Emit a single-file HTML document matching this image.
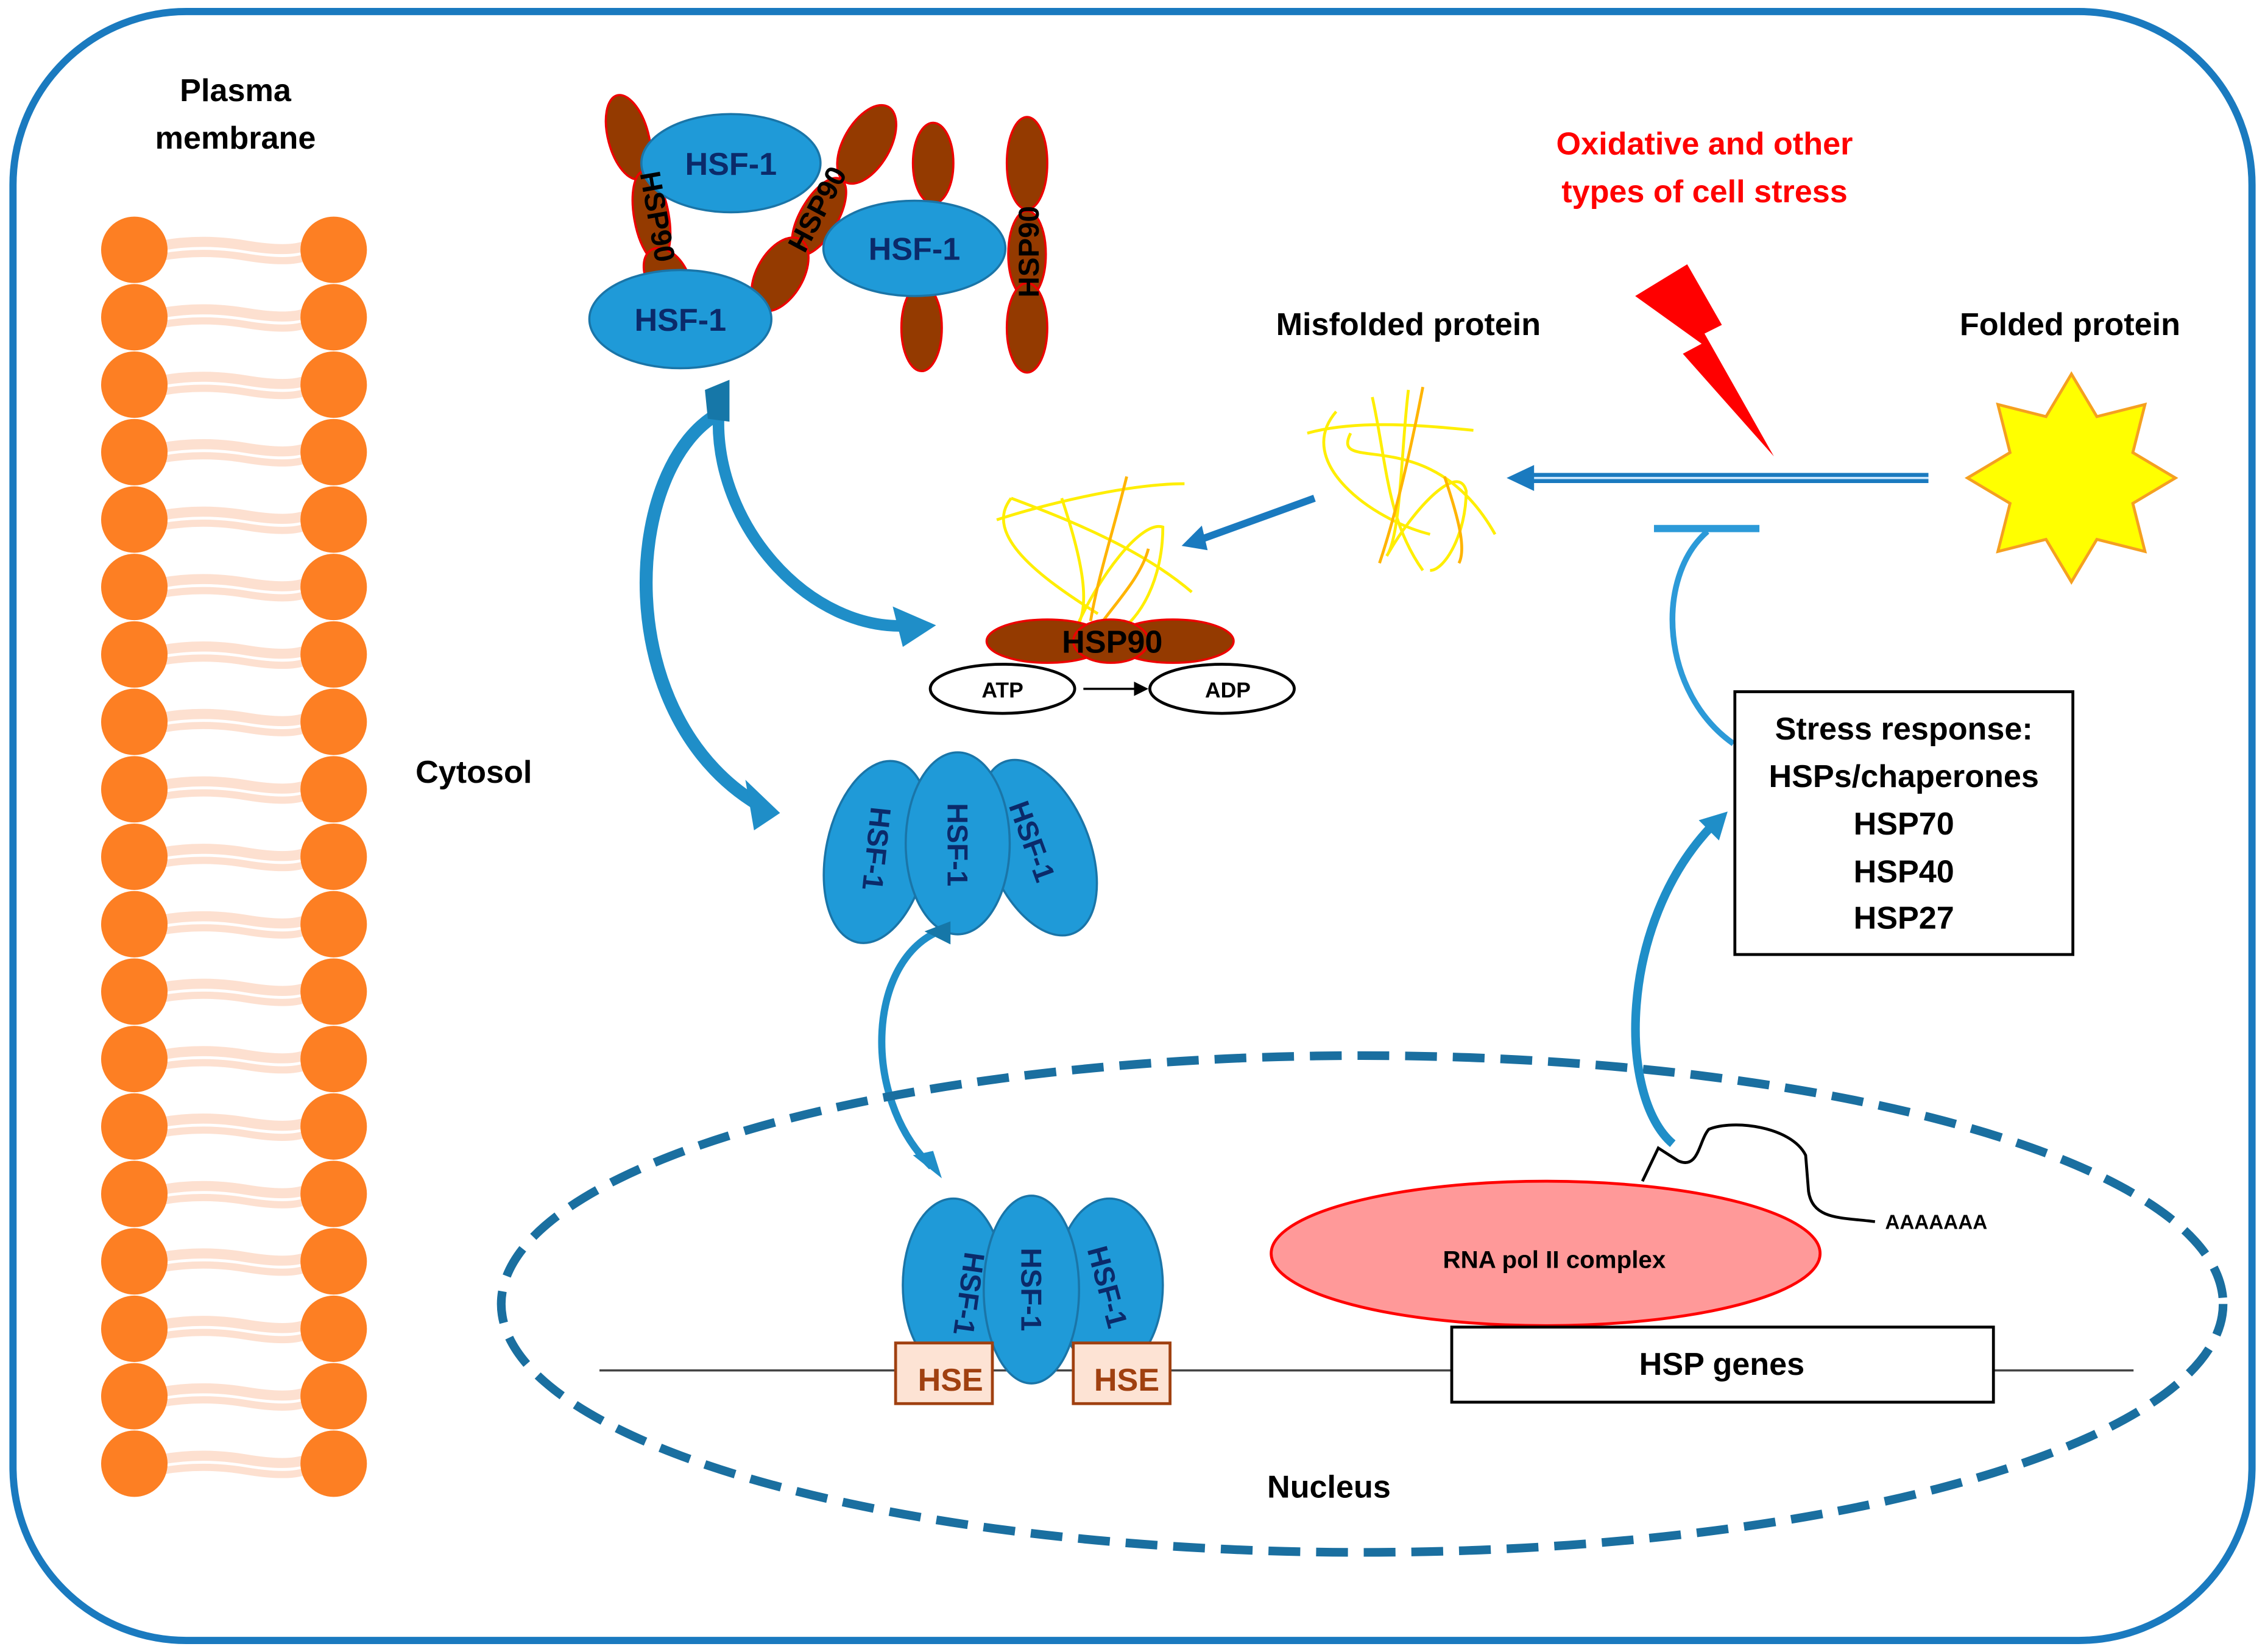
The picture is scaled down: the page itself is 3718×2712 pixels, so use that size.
<!DOCTYPE html>
<html><head><meta charset="utf-8"><style>
html,body{margin:0;padding:0;background:#fff;width:3718px;height:2712px;overflow:hidden}
svg{display:block}
text{font-family:"Liberation Sans",sans-serif;font-weight:bold}
</style></head><body>
<svg width="3718" height="2712" viewBox="0 0 1568 1144" preserveAspectRatio="none" xmlns="http://www.w3.org/2000/svg">
<defs>
<marker id="ab" markerWidth="10" markerHeight="10" refX="8" refY="5" orient="auto" markerUnits="userSpaceOnUse"><path d="M0,0 L10,5 L0,10 Z" fill="#000"/></marker>
<g id="row">
<path d="M112,-3 Q140,-8 170,-3 T212,-3" stroke="#fde0d0" stroke-width="7" fill="none"/>
<path d="M112,5 Q140,0 170,5 T212,5" stroke="#fde0d0" stroke-width="5" fill="none"/>
<circle cx="93" cy="0" r="23" fill="#fd7f23"/><circle cx="231" cy="0" r="23" fill="#fd7f23"/>
</g>
</defs>
<rect x="9" y="8" width="1550" height="1128" rx="120" fill="#fff" stroke="#1a7abf" stroke-width="5"/>

<!-- membrane -->
<use href="#row" y="173"/><use href="#row" y="219.7"/><use href="#row" y="266.4"/><use href="#row" y="313.1"/>
<use href="#row" y="359.8"/><use href="#row" y="406.5"/><use href="#row" y="453.2"/><use href="#row" y="499.9"/>
<use href="#row" y="546.6"/><use href="#row" y="593.3"/><use href="#row" y="640"/><use href="#row" y="686.7"/>
<use href="#row" y="733.4"/><use href="#row" y="780.1"/><use href="#row" y="826.8"/><use href="#row" y="873.5"/>
<use href="#row" y="920.2"/><use href="#row" y="966.9"/><use href="#row" y="1013.6"/>

<text x="163" y="70" font-size="22" text-anchor="middle">Plasma</text>
<text x="163" y="103" font-size="22" text-anchor="middle">membrane</text>
<text x="328" y="542" font-size="22" text-anchor="middle">Cytosol</text>
<text x="920" y="1037" font-size="22" text-anchor="middle">Nucleus</text>
<text x="1180" y="107" font-size="22" fill="#ff0000" text-anchor="middle">Oxidative and other</text>
<text x="1180" y="140" font-size="22" fill="#ff0000" text-anchor="middle">types of cell stress</text>
<text x="975" y="232" font-size="22" text-anchor="middle">Misfolded protein</text>
<text x="1433" y="232" font-size="22" text-anchor="middle">Folded protein</text>

<!-- lightning -->
<polygon points="1132,205 1168,183 1192,225 1180,231 1228,316 1165,245 1178,238" fill="#ff0000"/>
<!-- star -->
<polygon points="1434,259 1451.6,288.5 1484.9,280.1 1476.5,313.4 1506,331 1476.5,348.6 1484.9,381.9 1451.6,373.5 1434,403 1416.4,373.5 1383.1,381.9 1391.5,348.6 1362,331 1391.5,313.4 1383.1,280.1 1416.4,288.5" fill="#ffff00" stroke="#f5a020" stroke-width="2"/>

<!-- main arrow -->
<line x1="1335" y1="331" x2="1060" y2="331" stroke="#1a7abf" stroke-width="7"/>
<line x1="1335" y1="331" x2="1060" y2="331" stroke="#cfeaff" stroke-width="1.5"/>
<polygon points="1043,331 1062,322 1062,340" fill="#1a7abf"/>
<!-- inhibition -->
<line x1="1145" y1="366" x2="1218" y2="366" stroke="#2c9ad8" stroke-width="5"/>
<path d="M1200,515 C1150,480 1145,400 1182,368" stroke="#2c9ad8" stroke-width="4" fill="none"/>

<!-- stress box -->
<rect x="1201" y="479" width="234" height="182" fill="#fff" stroke="#000" stroke-width="2"/>
<text x="1318" y="512" font-size="22" text-anchor="middle">Stress response:</text>
<text x="1318" y="545" font-size="22" text-anchor="middle">HSPs/chaperones</text>
<text x="1318" y="578" font-size="22" text-anchor="middle">HSP70</text>
<text x="1318" y="611" font-size="22" text-anchor="middle">HSP40</text>
<text x="1318" y="643" font-size="22" text-anchor="middle">HSP27</text>

<!-- misfolded tangle -->
<g fill="none" stroke-width="2">
<path d="M925,285 C895,320 950,360 990,370 M935,300 C920,330 990,290 1035,370 M950,275 C960,320 960,360 985,395 M905,300 C940,290 990,295 1020,298 M975,270 C970,310 970,370 960,385 C980,350 1010,320 1015,340 C1015,370 1000,395 990,395" stroke="#ffee00"/>
<path d="M985,268 C975,320 965,360 955,390 M1000,330 C1010,360 1015,380 1010,390" stroke="#ffb400"/>
</g>
<line x1="910" y1="345" x2="830" y2="374" stroke="#1a7abf" stroke-width="5"/>
<polygon points="818,378 832,364 836,381" fill="#1a7abf"/>
<!-- tangle on HSP90 -->
<g fill="none" stroke-width="2">
<path d="M700,345 C680,370 720,400 760,425 M700,345 C740,360 790,380 825,410 M690,360 C720,350 780,335 820,335 M735,345 C750,390 755,420 745,435 C760,400 790,360 805,365 C805,400 790,430 770,440" stroke="#ffee00"/>
<path d="M780,330 C770,370 760,400 755,430 M760,435 C770,420 790,400 795,380" stroke="#ffb400"/>
</g>
<ellipse cx="725" cy="444" rx="42" ry="15" fill="#943a00" stroke="#e00" stroke-width="1.5"/>
<ellipse cx="812" cy="444" rx="42" ry="15" fill="#943a00" stroke="#e00" stroke-width="1.5"/>
<ellipse cx="769" cy="444" rx="26" ry="15" fill="#943a00" stroke="#e00" stroke-width="1.5"/>
<text x="770" y="452" font-size="22" text-anchor="middle">HSP90</text>
<ellipse cx="694" cy="477" rx="50" ry="17" fill="#fff" stroke="#000" stroke-width="2"/>
<ellipse cx="846" cy="477" rx="50" ry="17" fill="#fff" stroke="#000" stroke-width="2"/>
<text x="694" y="483" font-size="15" text-anchor="middle">ATP</text>
<text x="850" y="483" font-size="15" text-anchor="middle">ADP</text>
<line x1="750" y1="477" x2="793" y2="477" stroke="#000" stroke-width="1.5" marker-end="url(#ab)"/>

<!-- top complex -->
<g stroke="#e00" stroke-width="1.5" fill="#943a00">
<ellipse cx="435" cy="95" rx="14" ry="30" transform="rotate(-15 435 95)"/>
<ellipse cx="451" cy="150" rx="12" ry="32" transform="rotate(-10 451 150)"/>
<ellipse cx="462" cy="192" rx="14" ry="22" transform="rotate(-30 462 192)"/>
<ellipse cx="600" cy="100" rx="16" ry="30" transform="rotate(30 600 100)"/>
<ellipse cx="567" cy="150" rx="13" ry="30" transform="rotate(30 567 150)"/>
<ellipse cx="540" cy="190" rx="16" ry="28" transform="rotate(30 540 190)"/>
<ellipse cx="646" cy="113" rx="14" ry="28"/>
<ellipse cx="638" cy="227" rx="14" ry="30"/>
<ellipse cx="711" cy="113" rx="14" ry="32"/>
<ellipse cx="711" cy="176" rx="13" ry="30"/>
<ellipse cx="711" cy="227" rx="14" ry="31"/>
</g>
<g fill="#1f9ad8" stroke="#1a75a8" stroke-width="1.5">
<ellipse cx="506" cy="113" rx="62" ry="34"/>
<ellipse cx="471" cy="221" rx="63" ry="34"/>
<ellipse cx="633" cy="172" rx="63" ry="33"/>
</g>
<text font-size="20" transform="translate(443,120) rotate(80)">HSP90</text>
<text font-size="20" transform="translate(557,176) rotate(-62)">HSP90</text>
<text font-size="20" transform="translate(719,206) rotate(-90)">HSP90</text>
<g fill="#0b2a6a" font-size="22" text-anchor="middle">
<text x="506" y="121">HSF-1</text><text x="471" y="229">HSF-1</text><text x="633" y="180">HSF-1</text>
</g>

<!-- big curved arrows -->
<path d="M500,285 C430,320 420,500 530,560" stroke="#1f8ec8" stroke-width="9" fill="none"/>
<polygon points="540,563 516,540 522,575" fill="#1f8ec8"/>
<path d="M498,280 C490,360 560,440 632,433" stroke="#1f8ec8" stroke-width="8" fill="none"/>
<polygon points="648,433 618,420 625,448" fill="#1f8ec8"/>
<polygon points="488,270 505,263 505,292 490,290" fill="#1677a8"/>

<!-- trimer cytosol -->
<g fill="#1f9ad8" stroke="#1a75a8" stroke-width="1.5">
<ellipse cx="607" cy="590" rx="35" ry="64" transform="rotate(12 607 590)"/>
<ellipse cx="719" cy="587" rx="35" ry="64" transform="rotate(-22 719 587)"/>
<ellipse cx="663" cy="584" rx="36" ry="63"/>
</g>
<g fill="#0b2a6a" font-size="20" text-anchor="middle">
<text transform="translate(600,587) rotate(96)">HSF-1</text>
<text transform="translate(656,585) rotate(90)">HSF-1</text>
<text transform="translate(708,585) rotate(70)">HSF-1</text>
</g>
<path d="M655,643 C600,660 595,760 645,808" stroke="#1f8ec8" stroke-width="5" fill="none"/>
<polygon points="652,816 632,800 646,797" fill="#1f8ec8"/>
<polygon points="640,645 658,638 658,654" fill="#1677a8"/>

<!-- nucleus -->
<ellipse cx="943" cy="903" rx="596" ry="172" fill="none" stroke="#1a6fa0" stroke-width="6" stroke-dasharray="22 11"/>
<line x1="415" y1="949" x2="1477" y2="949" stroke="#444" stroke-width="1.5"/>

<g fill="#1f9ad8" stroke="#1a75a8" stroke-width="1.5">
<ellipse cx="660" cy="890" rx="35" ry="60"/>
<ellipse cx="768" cy="890" rx="37" ry="60"/>
<ellipse cx="714" cy="893" rx="33" ry="65"/>
</g>
<g fill="#0b2a6a" font-size="20" text-anchor="middle">
<text transform="translate(664,895) rotate(98)">HSF-1</text>
<text transform="translate(707,893) rotate(90)">HSF-1</text>
<text transform="translate(760,893) rotate(75)">HSF-1</text>
</g>
<g fill="#fde3d4" stroke="#a04010" stroke-width="2">
<rect x="620" y="930" width="67" height="42"/><rect x="743" y="930" width="67" height="42"/>
</g>
<g fill="#a04010" font-size="22" text-anchor="middle">
<text x="658" y="963">HSE</text><text x="780" y="963">HSE</text>
</g>

<ellipse cx="1070" cy="868" rx="190" ry="50" fill="#ff9999" stroke="#f00" stroke-width="2"/>
<text x="1076" y="878" font-size="17" text-anchor="middle">RNA pol II complex</text>
<rect x="1005" y="919" width="375" height="52" fill="#fff" stroke="#000" stroke-width="2"/>
<text x="1192" y="952" font-size="22" text-anchor="middle">HSP genes</text>
<path d="M1137,818 L1148,795 L1162,804 C1176,810 1176,790 1183,782 C1200,775 1240,780 1250,800 L1252,825 C1255,845 1275,843 1298,846" stroke="#000" stroke-width="2" fill="none"/>
<text x="1305" y="851" font-size="14">AAAAAAA</text>
<path d="M1158,792 C1120,760 1120,640 1185,572" stroke="#1f8ec8" stroke-width="6" fill="none"/>
<polygon points="1196,562 1176,568 1190,582" fill="#1f8ec8"/>
</svg>
</body></html>
